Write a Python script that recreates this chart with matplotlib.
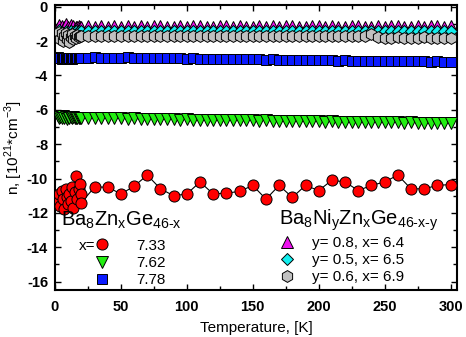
import matplotlib
matplotlib.use('Agg')
import matplotlib.pyplot as plt
from matplotlib.ticker import MultipleLocator

plt.rcParams['font.family'] = ['Liberation Sans', 'DejaVu Sans']
plt.rcParams['axes.unicode_minus'] = False

# temperatures, K
T_lo = [2, 3, 4, 5, 6, 7, 8, 9, 10, 11, 12, 13, 14, 15, 16, 17, 18, 19]
T_hi = [20, 25, 30, 35, 40, 45, 50, 55, 60, 65,
        70, 75, 80, 85, 90, 95, 100, 105, 110, 115,
        120, 125, 130, 135, 140, 145, 150, 155, 160, 165,
        170, 175, 180, 185, 190, 195, 200, 205, 210, 215,
        220, 225, 230, 235, 240, 245, 250, 255, 260, 265,
        270, 275, 280, 285, 290, 295, 300]

# Ba8NiyZnxGe46-x-y
mag_lo = [-1.25, -1.05, -1.35, -1.10, -1.45, -1.20, -1.00, -1.30, -1.15, -1.40,
          -1.05, -1.25, -1.10, -1.30, -1.15, -1.20, -1.10, -1.15]
mag_hi = [-1.15, -1.13, -1.16, -1.14, -1.15, -1.12, -1.15, -1.14, -1.16, -1.13,
          -1.15, -1.14, -1.13, -1.15, -1.16, -1.14, -1.15, -1.13, -1.14, -1.15,
          -1.16, -1.14, -1.13, -1.15, -1.14, -1.15, -1.16, -1.13, -1.15, -1.14,
          -1.15, -1.13, -1.14, -1.16, -1.15, -1.14, -1.13, -1.15, -1.14, -1.16,
          -1.15, -1.13, -1.14, -1.15, -1.16, -1.14, -1.15, -1.13, -1.14, -1.15,
          -1.16, -1.14, -1.15, -1.13, -1.14, -1.15, -1.14]
cyan_lo = [-1.55, -1.35, -1.70, -1.45, -1.80, -1.50, -1.40, -1.65, -1.45, -1.75,
           -1.40, -1.60, -1.45, -1.55, -1.40, -1.50, -1.42, -1.45]
cyan_hi = [-1.42, -1.40, -1.43, -1.41, -1.42, -1.40, -1.43, -1.42, -1.41, -1.43,
           -1.42, -1.41, -1.40, -1.42, -1.43, -1.41, -1.42, -1.40, -1.41, -1.42,
           -1.43, -1.41, -1.42, -1.40, -1.42, -1.41, -1.43, -1.42, -1.40, -1.41,
           -1.42, -1.43, -1.41, -1.42, -1.40, -1.41, -1.43, -1.42, -1.41, -1.40,
           -1.42, -1.43, -1.41, -1.42, -1.41, -1.40, -1.42, -1.43, -1.41, -1.42,
           -1.41, -1.43, -1.42, -1.40, -1.41, -1.42, -1.43]
gray_lo = [-1.60, -1.45, -1.90, -1.55, -2.00, -1.70, -1.50, -1.85, -1.65, -2.05,
           -1.75, -1.60, -1.90, -1.70, -1.80, -1.65, -1.75, -1.72]
gray_hi = [-1.72, -1.70, -1.73, -1.71, -1.72, -1.70, -1.73, -1.72, -1.71, -1.72,
           -1.73, -1.71, -1.72, -1.70, -1.72, -1.73, -1.71, -1.72, -1.70, -1.72,
           -1.71, -1.73, -1.72, -1.70, -1.72, -1.71, -1.73, -1.72, -1.71, -1.70,
           -1.72, -1.73, -1.71, -1.72, -1.70, -1.72, -1.71, -1.73, -1.72, -1.70,
           -1.72, -1.71, -1.73, -1.72, -1.60, -1.78, -1.82, -1.80, -1.78, -1.80,
           -1.79, -1.81, -1.78, -1.80, -1.79, -1.81, -1.80]

# Ba8ZnxGe46-x
blue_lo = [-2.95, -3.00, -2.97, -3.02, -2.96, -3.00, -2.98, -3.03, -2.97, -3.01,
           -2.99, -3.02, -2.96, -3.00, -2.98, -3.01, -2.99, -2.98]
blue_hi = [-2.98, -2.99, -2.92, -2.97, -2.98, -2.97, -2.98, -2.92, -2.96, -2.98,
           -2.99, -2.98, -3.00, -3.01, -2.99, -3.00, -3.02, -3.01, -3.03, -3.02,
           -3.04, -3.03, -3.05, -3.04, -3.06, -3.05, -3.07, -3.06, -3.08, -3.07,
           -3.09, -3.08, -3.10, -3.09, -3.11, -3.10, -3.12, -3.11, -3.12, -3.13,
           -3.12, -3.14, -3.13, -3.15, -3.14, -3.16, -3.15, -3.16, -3.17, -3.16,
           -3.18, -3.17, -3.18, -3.19, -3.18, -3.20, -3.21]
green_lo = [-6.35, -6.45, -6.40, -6.50, -6.38, -6.47, -6.42, -6.52, -6.40, -6.48,
            -6.44, -6.50, -6.42, -6.47, -6.45, -6.49, -6.46, -6.47]
green_hi = [-6.45, -6.47, -6.46, -6.49, -6.48, -6.50, -6.49, -6.52, -6.50, -6.53,
            -6.52, -6.54, -6.53, -6.56, -6.55, -6.57, -6.56, -6.58, -6.57, -6.59,
            -6.58, -6.60, -6.59, -6.61, -6.60, -6.62, -6.61, -6.63, -6.62, -6.64,
            -6.63, -6.65, -6.64, -6.66, -6.65, -6.67, -6.66, -6.68, -6.67, -6.69,
            -6.68, -6.70, -6.69, -6.71, -6.70, -6.72, -6.71, -6.73, -6.72, -6.74,
            -6.73, -6.75, -6.74, -6.76, -6.75, -6.77, -6.78]

T_red = [2, 3, 4, 5, 6, 7, 8, 9, 10, 11, 12, 13, 14, 15, 16, 17, 18, 19, 20, 20,
         30, 40, 50, 60, 70, 80, 90, 100, 110, 120,
         130, 140, 150, 160, 170, 180, 190, 200, 210, 220,
         230, 240, 250, 260, 270, 280, 290, 300]
red = [-11.3, -10.9, -11.6, -10.7, -11.2, -11.8, -10.6, -11.1, -11.5, -10.9,
       -11.3, -10.5, -11.7, -10.8, -9.85, -11.2, -10.6, -10.3, -10.9, -11.4,
       -10.5, -10.5, -10.9, -10.45, -9.8, -10.6, -11.0, -10.9, -10.2, -10.9,
       -10.85, -10.75, -10.4, -11.2, -10.4, -11.1, -10.4, -10.7, -10.1, -10.2,
       -10.7, -10.4, -10.2, -9.8, -10.6, -10.6, -10.4, -10.35]

x_labels = ['7.33', '7.62', '7.78']
ni_labels = ['y= 0.8, x= 6.4', 'y= 0.5, x= 6.5', 'y= 0.6, x= 6.9']

fig = plt.figure(figsize=(4.66, 3.37), dpi=100)
ax = fig.add_axes([0.118, 0.139, 0.863, 0.846])

ec = dict(markeredgecolor='black', markeredgewidth=0.7, linestyle='none')

ax.plot(T_red, red, color='black', lw=0.8, zorder=2)
h_red, = ax.plot(T_red, red, marker='o', ms=8, markerfacecolor='red', zorder=3, **ec)
h_green, = ax.plot(T_lo + T_hi, green_lo + green_hi, marker='v', ms=8,
                   markerfacecolor='#22ee11', zorder=3, **ec)
h_blue, = ax.plot(T_lo + T_hi, blue_lo + blue_hi, marker='s', ms=7,
                  markerfacecolor='#0a1aff', zorder=3, **ec)
h_gray, = ax.plot(T_lo + T_hi, gray_lo + gray_hi, marker='h', ms=8.5,
                  markerfacecolor='#c0c0c0', zorder=3, **ec)
h_cyan, = ax.plot(T_lo + T_hi, cyan_lo + cyan_hi, marker='D', ms=6.5,
                  markerfacecolor='#11eeee', zorder=2.9, **ec)
h_mag, = ax.plot(T_lo + T_hi, mag_lo + mag_hi, marker='^', ms=8,
                 markerfacecolor='#ee11ee', zorder=2.8, **ec)

ax.set_xlim(0, 305)
ax.set_ylim(-16.5, 0.1)
ax.xaxis.set_major_locator(MultipleLocator(50))
ax.xaxis.set_minor_locator(MultipleLocator(25))
ax.yaxis.set_major_locator(MultipleLocator(2))
ax.yaxis.set_minor_locator(MultipleLocator(1))
ax.tick_params(which='both', direction='in', top=True, right=True, width=1)
ax.tick_params(which='major', length=4, labelsize=10.5)
ax.tick_params(axis='x', which='major', pad=7)
ax.tick_params(axis='y', which='major', pad=5)
ax.tick_params(which='minor', length=3)
for lab in ax.get_xticklabels() + ax.get_yticklabels():
    lab.set_fontweight('bold')
for s in ax.spines.values():
    s.set_linewidth(1.5)

ax.set_xlabel('Temperature, [K]', fontsize=11, labelpad=5)
ax.set_ylabel(r'n, [10$^\mathregular{21}$*cm$^\mathregular{-3}$]', fontsize=11, labelpad=1)

ax.text(0.015, 0.245, 'Ba$_\\mathregular{8}$Zn$_\\mathregular{x}$Ge$_\\mathregular{46\u2010x}$',
        transform=ax.transAxes, fontsize=14.5, va='center')
ax.text(0.06, 0.155, 'x=', transform=ax.transAxes, fontsize=11, va='center')
leg1 = ax.legend([h_red, h_green, h_blue], x_labels, loc='upper left',
                 bbox_to_anchor=(0.095, 0.18), frameon=False, fontsize=11,
                 handlelength=1.2, handletextpad=1.6, labelspacing=0.2,
                 borderpad=0, borderaxespad=0)
ax.add_artist(leg1)

ax.text(0.557, 0.245, 'Ba$_\\mathregular{8}$Ni$_\\mathregular{y}$Zn$_\\mathregular{x}$Ge$_\\mathregular{46\u2010x\u2010y}$',
        transform=ax.transAxes, fontsize=14.5, va='center')
ax.legend([h_mag, h_cyan, h_gray], ni_labels, loc='upper left',
          bbox_to_anchor=(0.555, 0.19), frameon=False, fontsize=11,
          handlelength=1.2, handletextpad=1.0, labelspacing=0.2,
          borderpad=0, borderaxespad=0)

fig.savefig('out.png', dpi=100)
